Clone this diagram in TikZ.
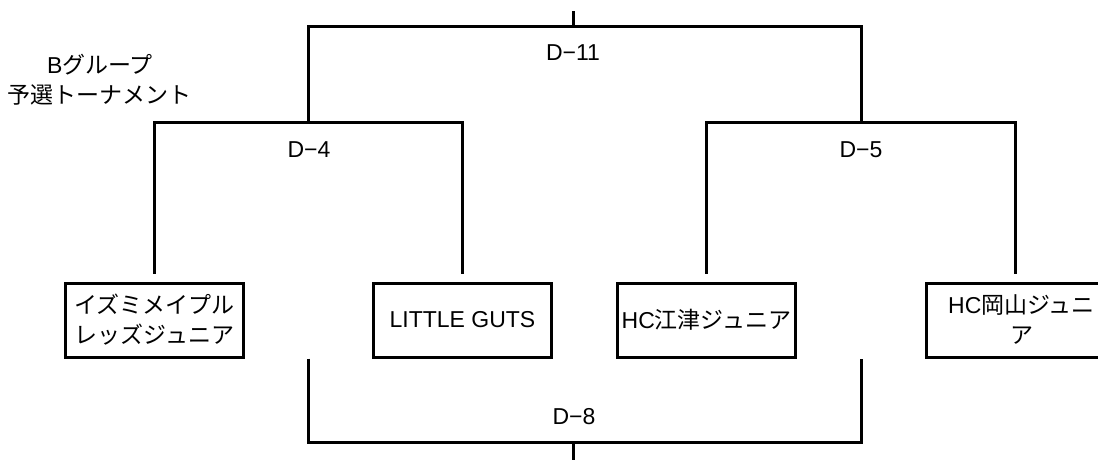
\documentclass[tikz,border=0pt]{standalone}
\usepackage{fontspec}
\setmainfont{Liberation Sans}
\newfontfamily\jp{Noto Sans CJK JP}
\usetikzlibrary{calc}

\tikzset{
  team/.style={draw, line width=1.5pt, minimum width=89pt, minimum height=37pt,
    inner sep=0pt, align=center, font=\fontsize{11.5}{15}\selectfont},
  match/.style={font=\fontsize{11.5}{15}\selectfont, inner sep=0pt},
  bracket/.style={line width=1.5pt}
}

\begin{document}
\begin{tikzpicture}[x=0.5pt, y=-0.5pt]
  \useasboundingbox (0,0) rectangle (1098,460);
  \clip (0,0) rectangle (1098,460);

  % Title
  \node[match, align=center] (title) at (100,80) {B{\jp グループ}\\{\jp 予選トーナメント}};

  % Teams
  \node[team] (izumi)  at (154.5,320) {{\jp イズミメイプル}\\{\jp レッズジュニア}};
  \node[team] (little) at (462.5,320) {LITTLE GUTS};
  \node[team] (gotsu)  at (706.5,320) {HC{\jp 江津ジュニア}};
  \node[team, minimum width=95pt, xshift=3pt] (okayama) at (1015.5,320) {HC{\jp 岡山ジュニ}\\{\jp ア}};
  \coordinate (okatick) at (1015.5,320);

  % Match labels
  \node[match] (d4)  at (309,150) {D−4};
  \node[match] (d5)  at (861,150) {D−5};
  \node[match] (d11) at (573,53)  {D−11};
  \node[match] (d8)  at (574,417) {D−8};

  % Bracket corners
  \coordinate (d4top)  at (308,123);
  \coordinate (d5top)  at (861,123);
  \coordinate (d11top) at (573,27);
  \coordinate (d8bot)  at (573,442);

  % First round
  \draw[bracket] ([yshift=4pt]izumi.north) |- (d4top) -| ([yshift=4pt]little.north);
  \draw[bracket] ([yshift=4pt]gotsu.north) |- (d5top) -| ([yshift=4pt]okayama.north -| okatick);

  % Final
  \draw[bracket] (d4top) |- (d11top) -| (d5top);
  \draw[bracket] (d11top) -- ++(0,-16);

  % Lower bracket
  \draw[bracket] (izumi.south -| d4top) |- (d8bot) -| (gotsu.south -| d5top);
  \draw[bracket] (d8bot) -- ++(0,18);
\end{tikzpicture}
\end{document}
